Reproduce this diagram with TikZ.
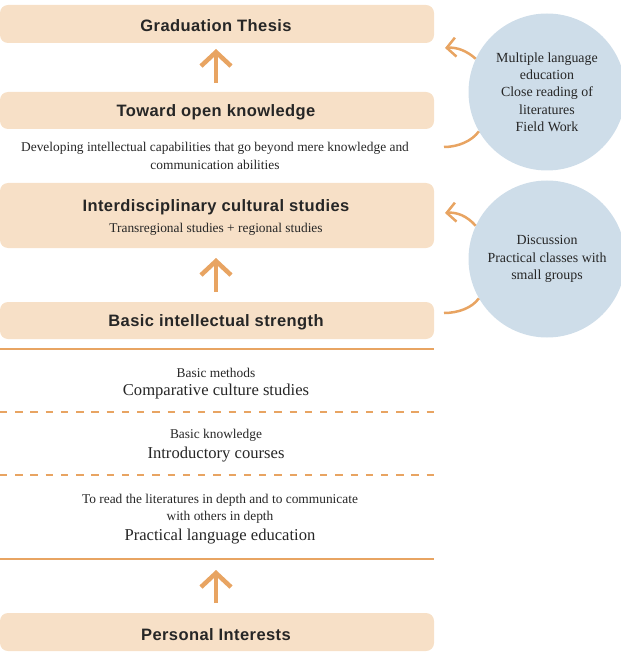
\documentclass[tikz,border=0pt]{standalone}
\usepackage{fontspec}
\setmainfont{Liberation Serif}
\newfontfamily\headfont[LetterSpace=2.5]{Liberation Sans}
\usetikzlibrary{arrows.meta}
\definecolor{peach}{RGB}{247,224,199}
\definecolor{ochre}{RGB}{232,164,98}
\definecolor{paleblue}{RGB}{206,221,233}
\definecolor{ink}{RGB}{38,38,38}
\tikzset{
  stage/.style={fill=peach, rounded corners=8pt, draw=none},
  headtext/.style={font=\headfont\bfseries\fontsize{16.5}{18}\selectfont, text=ink, inner sep=0pt, yshift=-1.5pt},
  bodytext/.style={font=\fontsize{13.4}{17.2}\selectfont, text=ink, align=center, inner sep=0pt},
  bigtext/.style={font=\fontsize{16.6}{18}\selectfont, text=ink, inner sep=0pt, yshift=-2pt},
  bubble/.style={circle, fill=paleblue, minimum size=157pt, inner sep=0pt, align=center,
                 font=\fontsize{13.9}{17.3}\selectfont, text=ink},
  uparrow/.style={draw=ochre, line width=4.5pt, -{Straight Barb[length=14pt, width=30pt, line width=4.5pt]}},
  sidearrow/.style={draw=ochre, line width=2.5pt, -{Straight Barb[length=9pt, width=19pt, line width=2.5pt]}},
  sideline/.style={draw=ochre, line width=2.5pt},
  rule/.style={draw=ochre, line width=2pt},
  dashrule/.style={draw=ochre, line width=2pt, dash pattern=on 7.3pt off 7.94pt},
}
\begin{document}
\begin{tikzpicture}[x=1pt, y=-1pt]
\useasboundingbox (0,0) rectangle (620,652);

% stage boxes
\fill[stage] (0,5) rectangle (434,43);
\fill[stage] (0,92) rectangle (434,129);
\fill[stage] (0,183) rectangle (434,248);
\fill[stage] (0,302) rectangle (434,339);
\fill[stage] (0,613) rectangle (434,651);

\node[headtext] (grad) at (216,24) {Graduation Thesis};
\node[headtext] (open) at (216,111) {Toward open knowledge};
\node[bodytext] (opendesc) at (215,156) {Developing intellectual capabilities that go beyond mere knowledge and\\communication abilities};
\node[headtext] (inter) at (216,206) {Interdisciplinary cultural studies};
\node[bodytext] (interdesc) at (216,229.5) {Transregional studies + regional studies};
\node[headtext] (basic) at (216,321) {Basic intellectual strength};
\node[headtext] (personal) at (216,633) {Personal Interests};

% anchor points for the vertical arrows
\coordinate (a1s) at (216,83);  \coordinate (a1e) at (216,49);
\coordinate (a2s) at (216,292); \coordinate (a2e) at (216,258);
\coordinate (a3s) at (216,603); \coordinate (a3e) at (216,570);
\draw[uparrow] (a1s) -- (a1e);
\draw[uparrow] (a2s) -- (a2e);
\draw[uparrow] (a3s) -- (a3e);

% foundation layers
\coordinate (r1l) at (0,349);   \coordinate (r1r) at (434,349);
\coordinate (d1l) at (0,412);   \coordinate (d1r) at (434,412);
\coordinate (d2l) at (0,475);   \coordinate (d2r) at (434,475);
\coordinate (r2l) at (0,559);   \coordinate (r2r) at (434,559);
\draw[rule] (r1l) -- (r1r);
\draw[dashrule] (d1l) -- (d1r);
\draw[dashrule] (d2l) -- (d2r);
\draw[rule] (r2l) -- (r2r);

\node[bodytext] (methods) at (216,372.5) {Basic methods};
\node[bigtext] (compar) at (216,390) {Comparative culture studies};
\node[bodytext] (knowl) at (216,435.5) {Basic knowledge};
\node[bigtext] (intro) at (216,453) {Introductory courses};
\node[bodytext] (readdesc) at (220,509) {To read the literatures in depth and to communicate\\with others in depth};
\node[bigtext] (practical) at (220,535) {Practical language education};

% teaching bubbles
\node[bubble] (c1) at (547,92) {Multiple language\\education\\Close reading of\\literatures\\Field Work};
\node[bubble] (c2) at (547,259) {Discussion\\Practical classes with\\small groups};

\coordinate (t1) at (445,48);  \coordinate (f1) at (444,147);
\coordinate (t2) at (445,213); \coordinate (f2) at (444,313);
\draw[sidearrow] (c1.155) .. controls (467,51) and (457,47) .. (t1);
\draw[sideline] (c1.210) .. controls (472,141) and (458,147) .. (f1);
\draw[sidearrow] (c2.155) .. controls (467,216) and (457,212) .. (t2);
\draw[sideline] (c2.210) .. controls (472,308) and (458,313) .. (f2);
\end{tikzpicture}
\end{document}
